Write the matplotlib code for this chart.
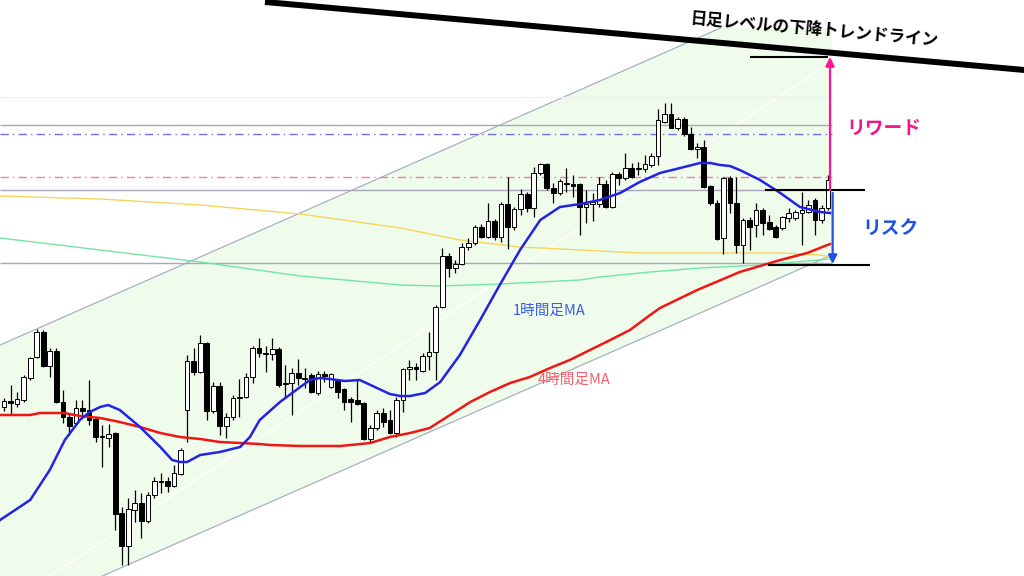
import numpy as np
import matplotlib
matplotlib.use('Agg')
import matplotlib.pyplot as plt
from matplotlib.patches import Rectangle

plt.rcParams['font.family'] = ['Noto Sans CJK JP', 'DejaVu Sans']

# ============================================================
# Data (chart levels read top-down, candle index on x)
# ============================================================
opens = [407, 401, 404, 400, 378, 357, 332, 366, 351, 402,
         417, 423, 408, 410, 419, 436, 438, 433, 513, 546,
         510, 503, 521, 495, 482, 481, 486, 474, 410, 361,
         372, 343, 411, 386, 426, 417, 398, 397, 377, 348,
         353, 354, 349, 383, 383, 373, 379, 375, 393, 374,
         387, 381, 389, 399, 400, 403, 439, 428, 413, 420,
         433, 400, 369, 367, 371, 356, 352, 307, 256, 268,
         264, 247, 243, 227, 237, 221, 237, 204, 227, 209,
         194, 208, 173, 164, 188, 193, 183, 184, 184, 207,
         204, 204, 184, 207, 174, 178, 168, 169, 169, 165,
         156, 122, 114, 128, 119, 134, 149, 147, 186, 203,
         238, 178, 203, 245, 220, 225, 210, 222, 227, 228,
         218, 218, 213, 212, 200, 220, 208]
highs = [398, 385, 392, 375, 357, 329, 330, 348, 348, 390,
         413, 400, 400, 380, 417, 425, 424, 432, 507, 498,
         490, 493, 492, 477, 473, 477, 465, 448, 355, 348,
         335, 342, 382, 382, 413, 395, 379, 373, 346, 338,
         346, 338, 347, 365, 368, 359, 368, 373, 371, 371,
         373, 379, 388, 397, 380, 402, 425, 410, 408, 410,
         397, 368, 360, 363, 353, 332, 305, 248, 253, 260,
         243, 238, 225, 224, 203, 219, 202, 177, 207, 189,
         192, 167, 163, 163, 183, 179, 168, 175, 183, 190,
         193, 177, 180, 172, 172, 153, 163, 162, 155, 153,
         109, 103, 103, 117, 117, 127, 143, 140, 185, 200,
         177, 176, 177, 218, 217, 203, 208, 215, 225, 216,
         208, 210, 192, 200, 198, 205, 175]
lows = [411, 415, 407, 402, 380, 358, 367, 377, 403, 423,
        435, 425, 417, 425, 442, 467, 447, 530, 565, 565,
        522, 538, 523, 498, 493, 492, 487, 475, 442, 375,
        373, 420, 413, 435, 438, 420, 417, 398, 383, 357,
        372, 360, 387, 397, 415, 385, 388, 393, 395, 382,
        388, 398, 410, 422, 405, 440, 443, 430, 427, 434,
        437, 412, 380, 380, 372, 370, 380, 308, 277, 273,
        265, 250, 245, 238, 238, 240, 242, 249, 230, 215,
        212, 217, 175, 190, 203, 195, 192, 197, 235, 223,
        221, 207, 208, 208, 185, 180, 178, 175, 172, 167,
        165, 123, 128, 130, 136, 150, 158, 188, 205, 240,
        254, 213, 253, 263, 250, 237, 235, 230, 238, 230,
        222, 220, 245, 213, 235, 223, 210]
closes = [401, 403, 399, 377, 358, 332, 366, 351, 402, 417,
          426, 408, 411, 420, 437, 437, 434, 514, 546, 509,
          503, 521, 495, 481, 481, 486, 473, 450, 361, 372,
          343, 411, 386, 426, 417, 398, 397, 377, 348, 353,
          354, 349, 385, 384, 373, 378, 378, 392, 374, 376,
          374, 392, 402, 402, 404, 439, 428, 413, 422, 433,
          400, 369, 367, 369, 356, 352, 307, 256, 268, 264,
          247, 243, 227, 237, 221, 237, 204, 227, 209, 194,
          208, 173, 164, 188, 193, 181, 184, 186, 207, 204,
          202, 184, 207, 174, 178, 168, 177, 168, 164, 156,
          120, 114, 128, 119, 134, 149, 147, 187, 203, 239,
          178, 203, 245, 220, 227, 210, 223, 229, 237, 217,
          213, 212, 210, 205, 220, 208, 180]

# 1時間足MA (blue)
ma1_x = [-0.6, 4, 7, 9.3, 11.6, 13.1, 14.7, 15.9, 17.7, 20.8, 23.9, 25.7, 26.9, 28,
         30, 33, 36.1, 37.6, 39.1, 42.2, 45.3, 46.8, 48.3, 49.8, 52.1, 54.4, 56.7,
         59, 60.6, 62.1, 64.4, 66.7, 69.7, 72.8, 75.8, 78.9, 82, 85, 88.1, 91.1,
         94.2, 97.2, 100.3, 103.4, 106.4, 108, 109.5, 111, 112.5, 115.6, 118.7,
         121.7, 124.8, 126.3]
ma1_y = [520, 500, 470, 440, 420, 412, 407, 405, 410, 427, 447, 460, 462, 462,
         455, 452, 447, 437, 420, 402, 387, 380, 378, 379, 381, 380, 387,
         394, 396, 396, 393, 382, 355, 320, 285, 250, 220, 207, 204, 200,
         193, 182, 173, 168, 163, 163, 165, 166, 170, 180, 193,
         207, 212, 213]
# 4時間足MA (red)
ma4_x = [-0.6, 4, 5.5, 9.2, 11.6, 14.7, 17.7, 20.8, 23.9, 26.9, 30, 33, 36.1, 39.1,
         40.7, 45.3, 51.4, 53, 56, 59, 62.1, 65.1, 68.2, 71.3, 74.3, 77.4, 80.4,
         83.5, 86.5, 89.6, 92.7, 95.7, 98.8, 100.3, 106, 112.5, 118.7, 122.8, 126.3]
ma4_y = [415, 415, 413, 413, 416, 418, 422, 427, 433, 437, 439, 442, 443, 444,
         445, 446, 446, 445, 443, 437, 433, 428, 415, 402, 392, 383, 377,
         368, 360, 350, 340, 330, 315, 308, 290, 272, 260, 253, 244]
# long MAs
yel_x = [-0.6, 14.7, 30, 45.3, 60.6, 69.7, 78.9, 88.1, 97.2, 106.4, 118.7, 124.8, 126.3]
yel_y = [196, 199, 205, 214, 228, 240, 247, 250, 253, 253, 253, 255, 257]
grn_x = [-0.6, 14.7, 30, 45.3, 60.6, 66.7, 75.8, 88.1, 91.1, 98.8, 106.4, 115.6, 126.3]
grn_y = [238, 250, 262, 276, 285, 286, 284, 280, 277, 272, 268, 265, 259]

# horizontal levels
grey_levels = [125, 190, 263]
faint_level = 97
blue_dashdot = 134
pink_dashdot = 177

# channel (index, level)
chan_x = [-0.6, 126.6]
chan_upper = [345, -21]
chan_lower = [621, 255]
mid_x = [7.0, 126.6]
mid_y = [576, 62]

# annotations
trend_x = [39.9, 156.0]
trend_y = [2, 70]
reward_top, reward_bottom = 57, 190
risk_top, risk_bottom = 193, 264

# ============================================================
# Layout
# ============================================================
X_LEFT, X_RIGHT = -0.612, 155.96
CHART_RIGHT = 126.6
CHART_TOP = 28

fig = plt.figure(figsize=(10.24, 5.76), dpi=100)
ax = fig.add_axes([0, 0, 1, 1])
ax.set_xlim(X_LEFT, X_RIGHT)
ax.set_ylim(576, 0)
ax.axis('off')

clip = Rectangle((X_LEFT, CHART_TOP), CHART_RIGHT - X_LEFT, 576 - CHART_TOP,
                 transform=ax.transData, visible=False)
ax.add_patch(clip)

# channel fill
poly = ax.fill(chan_x + chan_x[::-1], chan_upper + chan_lower[::-1],
               color='#EFFBEB', zorder=0, lw=0)[0]
poly.set_clip_path(clip)
for yy in (chan_upper, chan_lower):
    ln, = ax.plot(chan_x, yy, color='#A9B0C2', lw=0.9, zorder=1)
    ln.set_clip_path(clip)
ln, = ax.plot(mid_x, mid_y, color='white', lw=1.0, zorder=1)
ln.set_clip_path(clip)

# horizontal levels
ax.hlines(grey_levels, X_LEFT, CHART_RIGHT, color='#A8A8B8', lw=1.0, zorder=1.5)
ax.hlines(faint_level, X_LEFT, CHART_RIGHT, color='#F0F0F3', lw=1.0, zorder=1.5)
ax.hlines(blue_dashdot, X_LEFT, CHART_RIGHT, color='#7070F0', lw=1.0,
          linestyles=(0, (6, 3, 1, 3)), zorder=1.5)
ax.hlines(pink_dashdot, X_LEFT, CHART_RIGHT, color='#F07AB4', lw=1.0,
          linestyles=(0, (6, 3, 1, 3)), zorder=1.5)

# long MAs
ax.plot(yel_x, yel_y, color='#F5D55E', lw=1.0, zorder=2)
ax.plot(grn_x, grn_y, color='#72E6A4', lw=1.0, zorder=2)

# candles
o = np.array(opens)
c = np.array(closes)
idx = np.arange(len(o))
ax.vlines(idx, highs, lows, color='black', lw=0.9, zorder=3)
bottom = np.minimum(o, c)
height = np.maximum(np.abs(c - o), 1)
face = np.where(c < o, 'white', 'black')
ax.bar(idx, height, bottom=bottom, width=0.72, color=face,
       edgecolor='black', linewidth=0.7, zorder=4)

# hourly MAs
ax.plot(ma4_x, ma4_y, color='#F01616', lw=1.8, zorder=5)
ax.plot(ma1_x, ma1_y, color='#2323E6', lw=1.8, zorder=5)

ax.text(83.4, 311, '1時間足MA', color='#3B5BE8', fontsize=10.5, ha='center', va='center', zorder=6)
ax.text(87.2, 380, '4時間足MA', color='#F0606E', fontsize=10.5, ha='center', va='center', zorder=6)

# daily downtrend line
ax.plot(trend_x, trend_y, color='black', lw=4.3, solid_capstyle='butt', zorder=7)
ax.text(123.8, 30, '日足レベルの下降トレンドライン', fontsize=12, fontweight='bold',
        color='black', ha='center', va='center', rotation=-5, zorder=8)

# reward / risk markers
ax.hlines(reward_top, 114.1, 126.0, color='black', lw=1.5, zorder=7)
ax.hlines(reward_bottom, 116.4, 131.7, color='black', lw=1.5, zorder=7)
ax.hlines(risk_bottom + 1, 116.8, 132.4, color='black', lw=1.5, zorder=7)
ax.annotate('', xy=(126.3, reward_top), xytext=(126.3, reward_bottom),
            arrowprops=dict(arrowstyle='-|>', color='#FF1493', lw=1.6,
                            mutation_scale=13, shrinkA=0, shrinkB=0), zorder=8)
ax.annotate('', xy=(126.7, risk_bottom), xytext=(126.7, risk_top),
            arrowprops=dict(arrowstyle='-|>', color='#1F4FE8', lw=1.6,
                            mutation_scale=13, shrinkA=0, shrinkB=0), zorder=8)
ax.text(134.6, 128, 'リワード', fontsize=13.5, fontweight='bold', color='#F2168C',
        ha='center', va='center', zorder=8)
ax.text(135.6, 228, 'リスク', fontsize=13.5, fontweight='bold', color='#1F4FE8',
        ha='center', va='center', zorder=8)

fig.savefig('out.png', dpi=100)
plt.close(fig)
